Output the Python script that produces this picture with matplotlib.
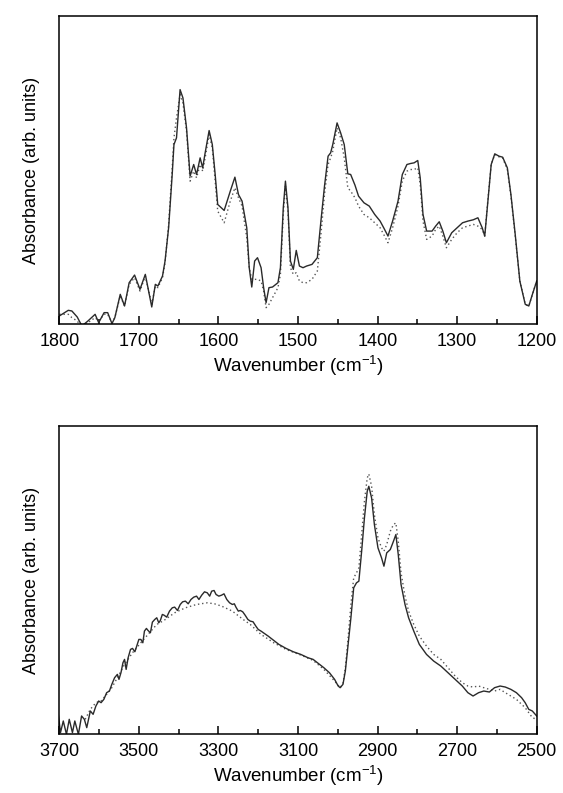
import numpy as np
import matplotlib
matplotlib.use("Agg")
import matplotlib.pyplot as plt
from matplotlib.ticker import MultipleLocator, FixedLocator

plt.rcParams['font.family'] = ['Liberation Sans', 'DejaVu Sans']
plt.rcParams['mathtext.fontset'] = 'custom'
plt.rcParams['mathtext.rm'] = 'Liberation Sans'
plt.rcParams['mathtext.it'] = 'Liberation Sans'

# ── Fingerprint region (1800-1200 cm-1) ────────────────────────────────────
wn_low = [1800, 1788.7, 1784.2, 1777.5, 1771.6, 1764.0, 1755.0, 1750.5, 1743.7, 1739.2,
          1733.8, 1730.2, 1723.4, 1718.0, 1712.2, 1705.4, 1698.6, 1691.9, 1683.8, 1679.3,
          1676.1, 1670.3, 1667.1, 1662.6, 1658.1, 1655.9, 1652.7, 1648.2, 1644.6, 1640.1,
          1635.6, 1631.1, 1627.5, 1623.0, 1619.8, 1616.7, 1611.7, 1607.7, 1604.1, 1600.9,
          1592.8, 1585.1, 1579.3, 1574.8, 1570.3, 1564.4, 1561.3, 1558.1, 1554.5, 1550.9,
          1546.4, 1543.2, 1540.1, 1536.5, 1532.0, 1525.2, 1522.1, 1518.5, 1515.8, 1512.6,
          1509.5, 1505.9, 1502.2, 1498.2, 1493.7, 1489.2, 1482.4, 1475.7, 1471.2, 1466.7,
          1462.2, 1459.0, 1456.3, 1450.9, 1446.4, 1441.9, 1437.4, 1433.8, 1428.4, 1423.9,
          1417.1, 1410.4, 1403.6, 1396.8, 1392.3, 1386.9, 1381.1, 1374.3, 1368.9, 1363.1,
          1358.6, 1354.1, 1349.5, 1346.4, 1342.9, 1338.3, 1331.5, 1327.0, 1322.5, 1318.0,
          1313.5, 1306.8, 1300.0, 1293.2, 1286.5, 1279.7, 1273.9, 1268.5, 1265.3, 1261.7,
          1257.2, 1252.7, 1247.3, 1242.8, 1236.9, 1232.4, 1227.0, 1221.2, 1214.4, 1209.9,
          1205.4, 1200]

abs_low_a = [0.025, 0.042, 0.040, 0.022, -0.005, 0.010, 0.030, 0.005, 0.035, 0.035,
             0.002, 0.020, 0.090, 0.055, 0.125, 0.148, 0.105, 0.150, 0.052, 0.120,
             0.115, 0.145, 0.190, 0.290, 0.450, 0.540, 0.560, 0.705, 0.680, 0.590,
             0.445, 0.480, 0.450, 0.500, 0.470, 0.515, 0.582, 0.540, 0.450, 0.360,
             0.342, 0.400, 0.442, 0.390, 0.370, 0.290, 0.170, 0.112, 0.190, 0.200,
             0.170, 0.110, 0.065, 0.110, 0.112, 0.125, 0.170, 0.350, 0.430, 0.350,
             0.190, 0.165, 0.222, 0.175, 0.170, 0.175, 0.180, 0.200, 0.310, 0.415,
             0.505, 0.515, 0.540, 0.605, 0.575, 0.540, 0.452, 0.450, 0.418, 0.385,
             0.365, 0.355, 0.330, 0.310, 0.290, 0.265, 0.310, 0.370, 0.450, 0.480,
             0.483, 0.485, 0.492, 0.440, 0.330, 0.280, 0.280, 0.295, 0.308, 0.280,
             0.245, 0.275, 0.290, 0.305, 0.310, 0.314, 0.320, 0.290, 0.265, 0.360,
             0.480, 0.512, 0.505, 0.502, 0.470, 0.390, 0.270, 0.130, 0.060, 0.055,
             0.090, 0.130]

abs_low_b = [0.030, 0.030, 0.020, 0.010, -0.010, 0.005, 0.020, 0.010, 0.030, 0.030,
             0.005, 0.020, 0.085, 0.055, 0.120, 0.140, 0.100, 0.145, 0.060, 0.115,
             0.110, 0.140, 0.185, 0.300, 0.470, 0.560, 0.620, 0.690, 0.665, 0.580,
             0.430, 0.460, 0.440, 0.480, 0.460, 0.500, 0.570, 0.530, 0.430, 0.340,
             0.305, 0.370, 0.410, 0.380, 0.355, 0.260, 0.170, 0.135, 0.135, 0.135,
             0.130, 0.100, 0.050, 0.060, 0.080, 0.110, 0.150, 0.330, 0.415, 0.340,
             0.170, 0.150, 0.155, 0.130, 0.125, 0.125, 0.135, 0.160, 0.270, 0.390,
             0.480, 0.500, 0.520, 0.590, 0.560, 0.500, 0.410, 0.400, 0.380, 0.355,
             0.330, 0.320, 0.305, 0.290, 0.270, 0.245, 0.290, 0.355, 0.430, 0.460,
             0.465, 0.465, 0.470, 0.420, 0.310, 0.255, 0.265, 0.285, 0.295, 0.265,
             0.230, 0.255, 0.275, 0.290, 0.295, 0.300, 0.295, 0.285, 0.265, 0.365,
             0.480, 0.510, 0.503, 0.500, 0.465, 0.385, 0.265, 0.130, 0.060, 0.055,
             0.090, 0.130]

# ── CH / OH stretching region (3700-2500 cm-1) ─────────────────────────────
wn_high_a = [3703, 3697, 3690, 3682, 3675, 3667, 3661, 3652, 3644, 3637,
             3631, 3622, 3615, 3608, 3601, 3595, 3588, 3581, 3574, 3568,
             3561, 3554, 3550, 3545, 3540, 3536, 3532, 3527, 3521, 3516,
             3510, 3504, 3500, 3495, 3490, 3486, 3481, 3477, 3471, 3466,
             3460, 3455, 3450, 3446, 3441, 3437, 3430, 3423, 3416, 3410,
             3403, 3396, 3390, 3383, 3376, 3369, 3362, 3355, 3349, 3342,
             3335, 3328, 3322, 3317, 3311, 3306, 3299, 3292, 3286, 3279,
             3272, 3265, 3260, 3256, 3250, 3245, 3239, 3233, 3226, 3220,
             3213, 3206, 3200, 3193, 3175, 3161, 3148, 3130, 3112, 3093,
             3075, 3062, 3048, 3035, 3021, 3008, 2999, 2994, 2987, 2981,
             2974, 2967, 2960, 2953, 2947, 2940, 2933, 2926, 2922, 2915,
             2908, 2899, 2890, 2884, 2877, 2868, 2860, 2854, 2848, 2841,
             2831, 2822, 2809, 2795, 2777, 2759, 2741, 2723, 2705, 2687,
             2673, 2660, 2646, 2633, 2619, 2606, 2592, 2579, 2565, 2551,
             2538, 2529, 2520, 2511, 2500]

abs_high_a = [0.065, 0.005, 0.040, 0.000, 0.045, 0.005, 0.040, 0.000, 0.055, 0.045,
              0.020, 0.070, 0.060, 0.085, 0.100, 0.095, 0.105, 0.125, 0.130, 0.150,
              0.170, 0.180, 0.165, 0.185, 0.215, 0.225, 0.195, 0.230, 0.255, 0.258,
              0.248, 0.270, 0.285, 0.285, 0.275, 0.310, 0.318, 0.312, 0.305, 0.337,
              0.345, 0.350, 0.335, 0.342, 0.360, 0.358, 0.352, 0.370, 0.380, 0.382,
              0.372, 0.390, 0.398, 0.400, 0.392, 0.405, 0.412, 0.415, 0.405, 0.418,
              0.428, 0.425, 0.415, 0.430, 0.432, 0.420, 0.415, 0.418, 0.422, 0.405,
              0.395, 0.390, 0.392, 0.382, 0.370, 0.372, 0.368, 0.358, 0.345, 0.340,
              0.338, 0.325, 0.315, 0.310, 0.295, 0.282, 0.270, 0.258, 0.248, 0.240,
              0.230, 0.225, 0.212, 0.200, 0.185, 0.165, 0.145, 0.140, 0.150, 0.190,
              0.270, 0.350, 0.440, 0.455, 0.460, 0.550, 0.650, 0.730, 0.745, 0.710,
              0.630, 0.560, 0.530, 0.505, 0.545, 0.555, 0.580, 0.600, 0.540, 0.450,
              0.390, 0.350, 0.310, 0.270, 0.240, 0.220, 0.205, 0.185, 0.165, 0.145,
              0.125, 0.115, 0.125, 0.130, 0.127, 0.140, 0.145, 0.142, 0.135, 0.125,
              0.110, 0.095, 0.075, 0.070, 0.055]

wn_high_b = [3635, 3622, 3608, 3595, 3581, 3568, 3554, 3536, 3516, 3495,
             3477, 3455, 3437, 3410, 3383, 3355, 3328, 3310, 3292, 3265,
             3238, 3220, 3193, 3161, 3130, 3093, 3062, 3035, 3008, 2994,
             2987, 2981, 2974, 2967, 2960, 2953, 2947, 2940, 2933, 2926,
             2922, 2915, 2908, 2899, 2890, 2884, 2877, 2868, 2860, 2854,
             2848, 2841, 2831, 2822, 2809, 2795, 2777, 2759, 2741, 2723,
             2705, 2687, 2673, 2660, 2646, 2633, 2619, 2606, 2592, 2579,
             2565, 2551, 2538, 2529, 2520, 2511, 2500]

abs_high_b = [0.045, 0.075, 0.095, 0.100, 0.120, 0.140, 0.170, 0.210, 0.245, 0.275,
              0.300, 0.330, 0.342, 0.365, 0.380, 0.390, 0.395, 0.392, 0.385, 0.370,
              0.345, 0.330, 0.300, 0.275, 0.255, 0.238, 0.222, 0.195, 0.160, 0.140,
              0.152, 0.200, 0.290, 0.390, 0.470, 0.485, 0.500, 0.600, 0.700, 0.770,
              0.782, 0.745, 0.660, 0.590, 0.560, 0.550, 0.570, 0.610, 0.630, 0.635,
              0.580, 0.485, 0.415, 0.370, 0.330, 0.295, 0.265, 0.240, 0.225, 0.200,
              0.175, 0.155, 0.145, 0.142, 0.145, 0.140, 0.135, 0.130, 0.135, 0.125,
              0.115, 0.105, 0.090, 0.080, 0.065, 0.050, 0.045]

high_major = [3700, 3500, 3300, 3100, 2900, 2700, 2500]
high_minor = [3600, 3400, 3200, 3000, 2800, 2600]

# ── Plot ───────────────────────────────────────────────────────────────────
W, H = 563, 793
fig = plt.figure(figsize=(W / 100, H / 100), dpi=100)

ax1 = fig.add_axes([59.3 / W, 1 - 324.3 / H, 477.4 / W, 308.6 / H])
ax2 = fig.add_axes([59.3 / W, 1 - 734.3 / H, 477.4 / W, 308.6 / H])

solid_kw = dict(color='#2a2a2a', lw=1.0, ls='-')
dot_kw = dict(color='#555555', lw=1.0, ls=(0, (1, 2)))

ax1.plot(wn_low, abs_low_b, **dot_kw)
ax1.plot(wn_low, abs_low_a, **solid_kw)
ax1.set_xlim(1800, 1200)
ax1.xaxis.set_major_locator(MultipleLocator(100))
ax1.xaxis.set_minor_locator(MultipleLocator(50))

ax2.plot(wn_high_b, abs_high_b, **dot_kw)
ax2.plot(wn_high_a, abs_high_a, **solid_kw)
ax2.set_xlim(3700, 2500)
ax2.xaxis.set_major_locator(FixedLocator(high_major))
ax2.xaxis.set_minor_locator(FixedLocator(high_minor))

for ax in (ax1, ax2):
    ax.set_ylim(0, 0.927)
    ax.set_yticks([])
    ax.tick_params(axis='x', which='major', direction='in', length=6, width=1.1,
                   labelsize=13, pad=6, top=False)
    ax.tick_params(axis='x', which='minor', direction='in', length=3.5, width=1.1,
                   top=False)
    for s in ax.spines.values():
        s.set_linewidth(1.1)
    ax.set_xlabel("Wavenumber (cm$^{-1}$)", fontsize=13.5, labelpad=3)
    ax.set_ylabel("Absorbance (arb. units)", fontsize=13, labelpad=14)

plt.savefig("out.png", dpi=100)
